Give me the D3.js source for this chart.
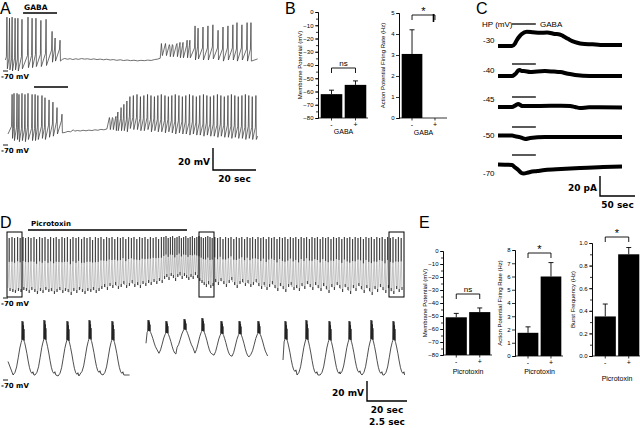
<!DOCTYPE html>
<html>
<head>
<meta charset="utf-8">
<script src="https://cdn.jsdelivr.net/npm/d3@7"></script>
<style>
  body { margin: 0; background: #fff; }
  svg text { font-family: "Liberation Sans", Arial, sans-serif; fill: #000; }
  .note { font-family: "DejaVu Sans", Verdana, sans-serif; font-weight: bold; }
  .axis text { font-size: 6px; }
  .axis path, .axis line { stroke: #000; stroke-width: 0.8; }
</style>
</head>
<body>
<svg id="fig" width="640" height="428"></svg>
<script>
/* ---------- data ---------- */

// A, top trace: spikes [sec, peak mV, trough mV]
const aTopSpikes = [
  [0.9,-21,-68],[2.1,-22,-69],[3.3,-21,-70],[4.7,-22,-69],[6.0,-22,-70],[7.9,-23,-68],
  [10.7,-21,-67],[12.6,-22,-67],[14.4,-22,-66],[16.7,-24,-66],[19.1,-23,-65],
  [21.9,-34,-62],[23.3,-40,-61],[25.6,-42,-61],
  [73.0,-51,-56],[74.9,-50,-56],[76.7,-48,-57],[78.1,-47,-57],[80.0,-45,-57],[81.4,-44,-58],
  [82.8,-44,-58],[84.7,-42,-58],[86.0,-42,-58],[88.4,-29,-60],[89.8,-31,-59],[92.1,-30,-60],
  [94.4,-29,-60],[96.7,-28,-59],[99.1,-33,-60],[101.4,-30,-61],[103.7,-29,-60],[106.0,-28,-60],
  [107.9,-26,-61],[110.2,-28,-60],[112.6,-26,-61],[114.4,-26,-61]
];
// A, top trace: membrane potential between spikes [sec, mV]
const aTopFlat = [
  [0.2,-60],[26.6,-59.5],[27.8,-58.6],[29.0,-59.3],[30.3,-58.8],[31.5,-59.6],[32.9,-58.9],
  [34.2,-59.4],[35.6,-58.7],[37.0,-59.2],[38.4,-58.9],[39.9,-59.5],[41.3,-59.0],[42.8,-59.6],
  [44.3,-59.2],[45.8,-59.8],[47.3,-59.3],[48.9,-60.0],[50.4,-59.6],[52.0,-60.3],[53.6,-59.8],
  [55.2,-60.5],[56.8,-60.0],[58.4,-60.6],[60.0,-60.2],[61.6,-60.8],[63.2,-60.3],[64.8,-60.6],
  [66.4,-60.1],[68.0,-60.4],[69.6,-59.6],[71.0,-59.2],[72.2,-58.4],[117.5,-59]
];
// A, bottom trace
const aBotSpikes = [
  [3.3,-24,-64],[4.2,-23,-66],[5.6,-23,-65],[6.5,-24,-67],[7.9,-23,-66],[9.3,-24,-67],
  [10.7,-23,-65],[12.6,-24,-66],[14.0,-24,-66],[15.3,-25,-65],[17.2,-25,-64],[18.6,-27,-65],
  [20.5,-29,-63],[22.3,-31,-62],[24.2,-36,-60],[26.5,-42,-59],
  [48.8,-48,-56],[50.2,-46,-56],[51.6,-44,-57],[52.5,-40,-57],[54.0,-36,-57],[55.3,-33,-57],[56.7,-30,-58],
  [58.1,-26,-55],[59.7,-25,-56],[61.4,-24,-56],[63.0,-26,-57],[64.6,-25,-57],[66.3,-24,-56],
  [67.9,-25,-58],[69.5,-26,-57],[71.1,-25,-58],[72.7,-24,-58],[74.4,-25,-59],[76.0,-26,-58],
  [77.6,-25,-59],[79.2,-24,-60],[80.9,-25,-59],[82.5,-26,-60],[84.1,-25,-60],[85.8,-24,-61],
  [87.4,-25,-60],[89.0,-26,-61],[90.6,-25,-61],[92.3,-24,-62],[93.9,-25,-61],[95.5,-26,-62],
  [97.1,-25,-62],[98.8,-24,-63],[100.4,-25,-62],[102.0,-26,-63],[103.7,-25,-63],[105.3,-24,-64],
  [106.9,-25,-63],[108.5,-26,-64],[110.2,-25,-64],[111.8,-24,-65],[113.4,-25,-64],[115.0,-26,-65],
  [116.7,-25,-65]
];
const aBotFlat = [
  [1.4,-60],[28.0,-58.5],[29.3,-57.6],[30.5,-58.0],[31.8,-56.2],[32.4,-57.4],[33.7,-56.8],
  [35.0,-57.3],[36.3,-56.6],[37.7,-57.1],[39.0,-56.5],[40.4,-56.9],[41.8,-56.2],[43.2,-56.6],
  [44.6,-55.8],[46.0,-56.2],[47.4,-55.4],[117.5,-62]
];
const aTopGaba = [8.4, 24.2];
const aBotGaba = [13.5, 29.3];

// B
const gabaCats = ['-', '+'];
const gabaVm = [-62, -55];
const gabaVmErr = [3, 3];
const gabaRate = [3.05, 0];
const gabaRateErr = [1.15, 0];

// C: holding potentials and current traces [sec, pA relative to holding current]
const cHolding = ['-30', '-40', '-45', '-50', '-70'];
const cTraces = [
  [[0,0],[20,0],[24,2],[27,5.5],[31,9],[34,11],[41,13],[50,12.5],[60,12],[70,12.3],[81,11],[88,10.5],[93,9],[100,6.5],[106,4.5],[113,3],[120,2],[135,1.5],[146,1],[177,1]],
  [[0,0],[20,0],[24,1.5],[26,2.7],[29,5],[31,5.5],[34,4.5],[37,4.5],[46,3.6],[56,4.2],[67,4.5],[80,4],[89,3.6],[100,2],[110,1],[131,0],[177,0]],
  [[0,0],[20,0],[25,1.5],[29,2.7],[32,1.8],[34,1],[60,1],[90,1.2],[103,1],[110,0],[117,-1],[130,-0.3],[177,-0.5]],
  [[0,0.5],[20,0.5],[26,-0.5],[31,-1],[35,-2],[39,-2.7],[46,-1.8],[67,-1],[120,-1],[177,-1]],
  [[0,0.5],[20,0],[24,-2],[29,-4.5],[33,-7],[37,-7.7],[41,-7.2],[46,-6.4],[56,-5.5],[67,-4.5],[90,-3.6],[117,-2.7],[150,-1.8],[177,-1.4]]
];
const cGaba = [20, 54];

// D, full trace: bursts [sec, trough mV, peak mV]
const dTopBursts = [
  [0.6,-64,-11],[2.0,-65,-10],[3.3,-66,-11],[4.8,-64,-10],[6.1,-65,-11],[7.5,-63,-10],[8.8,-64,-11],
  [10.2,-66,-10],[11.5,-63,-11],[13.0,-65,-10],[14.3,-67,-12],[15.8,-64,-10],[17.1,-66,-11],[18.5,-63,-10],
  [20.0,-65,-12],[21.3,-64,-10],[22.8,-67,-11],[24.1,-65,-10],[25.5,-63,-12],[27.0,-66,-10],[28.3,-64,-11],
  [29.7,-65,-10],[31.2,-68,-12],[32.5,-64,-10],[34.0,-66,-11],[35.3,-63,-10],[36.8,-65,-12],[38.1,-67,-10],
  [39.5,-64,-11],[41.0,-65,-10],[42.3,-63,-13],[43.7,-66,-10],[45.1,-64,-11],
  [46.5,-62,-10],[47.9,-60,-12],[49.3,-63,-10],[50.6,-59,-11],[52.0,-61,-10],[53.4,-58,-12],[54.8,-62,-10],
  [56.2,-60,-11],[57.5,-57,-10],[58.9,-61,-12],[60.3,-59,-10],[61.7,-56,-11],[63.0,-60,-10],[64.4,-58,-12],
  [65.8,-61,-10],[67.1,-57,-11],[68.5,-59,-10],[69.9,-56,-12],[71.2,-58,-10],[72.6,-55,-11],[74.0,-57,-10],
  [75.3,-54,-12],[76.7,-56,-10],
  [77.9,-52,-10],[79.0,-50,-9],[80.1,-53,-11],[81.2,-49,-10],[82.3,-51,-9],[83.4,-54,-11],[84.5,-50,-10],
  [85.6,-48,-9],[86.7,-52,-11],[87.8,-49,-10],[88.9,-51,-9],[90.0,-53,-11],[91.1,-50,-10],[92.2,-52,-9],
  [93.3,-48,-11],[94.4,-51,-10],[95.5,-54,-9],[96.6,-56,-10],[97.7,-58,-11],[98.8,-60,-10],[99.9,-57,-9],
  [101.0,-61,-10],[102.1,-59,-11],
  [103.4,-55,-10],[104.8,-58,-11],[106.1,-54,-10],[107.5,-57,-12],[108.8,-60,-10],[110.2,-56,-11],
  [111.5,-53,-10],[112.9,-58,-12],[114.2,-61,-10],[115.6,-57,-11],[116.9,-55,-10],[118.3,-59,-12],
  [119.6,-56,-10],[121.0,-60,-11],[122.3,-58,-10],[123.7,-55,-12],[125.0,-59,-10],
  [126.4,-62,-11],[127.7,-58,-10],[129.1,-63,-12],[130.4,-60,-10],[131.8,-57,-11],[133.1,-61,-10],
  [134.5,-64,-12],[135.8,-59,-10],[137.2,-62,-11],[138.5,-65,-10],[139.9,-60,-12],[141.2,-58,-10],
  [142.6,-63,-11],[143.9,-61,-10],[145.3,-64,-12],[146.6,-59,-10],[148.0,-62,-11],[149.3,-57,-10],
  [150.7,-60,-12],[152.0,-63,-10],[153.4,-58,-11],[154.7,-61,-10],
  [156.1,-64,-12],[157.4,-59,-10],[158.8,-62,-11],[160.1,-66,-10],[161.5,-60,-12],[162.8,-63,-10],
  [164.2,-58,-11],[165.5,-61,-10],[166.9,-65,-12],[168.2,-60,-10],[169.6,-63,-11],[170.9,-67,-10],
  [172.3,-61,-12],[173.6,-64,-10],[175.0,-59,-11],[176.3,-62,-10],[177.7,-66,-12],[179.0,-61,-10],
  [180.4,-64,-11],[181.7,-68,-10],[183.1,-62,-12],[184.4,-65,-10],[185.8,-60,-11],[187.1,-63,-10],
  [188.5,-66,-12],[189.8,-61,-10],[191.2,-64,-11],[192.5,-67,-10],[193.9,-62,-12],[195.2,-65,-10],
  [196.6,-63,-11]
];
const dPicro = [10, 89.5];
const dEnd = 198;
// D, expanded segments: bursts [sec, trough mV, peak mV]
const dCtrlBursts = [[0.94,-64,-10],[2.31,-64,-9],[3.75,-65,-10],[5.13,-63,-9],[6.56,-64,-10]];
const dDrugBursts = [[0.19,-40,-9],[1.31,-44,-10],[2.44,-38,-8],[3.56,-44,-7],[4.75,-46,-10],[5.88,-47,-10],[7.06,-45,-10]];
const dWashBursts = [[0.19,-62,-10],[1.5,-64,-9],[2.94,-64,-10],[4.19,-63,-10],[5.56,-64,-9],[6.94,-64,-10]];
const dSegEnd = 7.6;
// one burst: [sec from burst, fraction of trough-to-peak]
const burstShape = [
  [-0.62,0.0],[-0.5,0.05],[-0.4,0.15],[-0.3,0.32],[-0.2,0.5],[-0.12,0.6],[-0.08,0.64],
  [-0.06,1.0],[-0.045,0.66],[-0.03,0.97],[-0.015,0.65],[0,0.99],[0.015,0.66],[0.03,0.92],
  [0.045,0.64],[0.06,0.85],[0.075,0.62],[0.1,0.6],[0.16,0.52],[0.24,0.4],[0.32,0.26],
  [0.4,0.14],[0.48,0.06],[0.56,0.03],[0.62,0.06],[0.68,0.0]
];

// E
const picroCats = ['-', '+'];
const picroVm = [-51, -47];
const picroVmErr = [3, 3.2];
const picroRate = [1.75, 6.0];
const picroRateErr = [0.45, 1.05];
const picroBurst = [0.35, 0.9];
const picroBurstErr = [0.11, 0.06];

/* ---------- drawing ---------- */
const svg = d3.select('#fig');
const line = (x, y) => d3.line().x((d) => x(d[0])).y((d) => y(d[1]));

function spikePoints(spikes, flats) {
  const pts = flats.slice();
  spikes.forEach(([t, peak, trough]) => {
    pts.push([t - 0.25, trough + 11], [t, peak], [t + 0.2, trough]);
  });
  return pts.sort((a, b) => a[0] - b[0]);
}

// each burst keeps the part of the shape that lies between the midpoints to its neighbours
function burstPoints(bursts, span) {
  const first = bursts[0];
  const pts = [[0, first[1] + 0.25 * (first[2] - first[1])]];
  bursts.forEach(([t, trough, peak], i) => {
    const lo = i > 0 ? (bursts[i - 1][0] + t) / 2 : 0;
    const hi = i < bursts.length - 1 ? (bursts[i + 1][0] + t) / 2 : span;
    burstShape.forEach(([dt, f]) => {
      const tt = t + dt;
      if (tt > lo && tt < hi) pts.push([tt, trough + f * (peak - trough)]);
    });
  });
  pts.push([span, bursts[bursts.length - 1][1]]);
  return pts.sort((a, b) => a[0] - b[0]);
}

function label(x, y, txt, size, cls, anchor) {
  return svg.append('text').attr('x', x).attr('y', y).attr('class', cls || null)
    .attr('font-size', size).attr('text-anchor', anchor || 'start').text(txt);
}

function hline(x1, x2, y, w) {
  svg.append('line').attr('x1', x1).attr('x2', x2).attr('y1', y).attr('y2', y)
    .attr('stroke', '#000').attr('stroke-width', w || 1.2);
}

function mvMark(y) {
  hline(3, 8, y, 0.9);
  label(1, y + 8, '-70 mV', 7, 'note');
}

function scaleBar(x, yTop, yBot, xRight, vText, hTexts) {
  svg.append('path')
    .attr('d', `M${x},${yTop}V${yBot}H${xRight}`)
    .attr('fill', 'none').attr('stroke', '#000').attr('stroke-width', 1.4);
  label(x - 3, yBot - 5, vText, 9, 'note', 'end');
  hTexts.forEach((t, i) => label((x + xRight) / 2, yBot + 12 + i * 12, t, 9, 'note', 'middle'));
}

// ----- panel letters
label(0, 14, 'A', 16);
label(285, 14, 'B', 16);
label(476, 14, 'C', 16);
label(0, 228, 'D', 16);
label(419, 228, 'E', 16);

// ----- A
const xA = d3.scaleLinear().domain([0, 118]).range([5, 258.7]);
const yAtop = d3.scaleLinear().domain([-70, -20]).range([71, 16]);
const yAbot = d3.scaleLinear().domain([-70, -20]).range([145, 90]);
svg.append('path').attr('d', line(xA, yAtop)(spikePoints(aTopSpikes, aTopFlat)))
  .attr('fill', 'none').attr('stroke', '#333').attr('stroke-width', 0.7);
svg.append('path').attr('d', line(xA, yAbot)(spikePoints(aBotSpikes, aBotFlat)))
  .attr('fill', 'none').attr('stroke', '#333').attr('stroke-width', 0.7);
hline(xA(aTopGaba[0]), xA(aTopGaba[1]), 13, 1.4);
label(xA(aTopGaba[0]) + 1, 10, 'GABA', 7.5, 'note');
hline(xA(aBotGaba[0]), xA(aBotGaba[1]), 87, 1.4);
mvMark(71);
mvMark(145);
// 20 mV = 22 px, 20 sec = 43 px
scaleBar(213, 148, 170, 213 + xA(20) - xA(0), '20 mV', ['20 sec']);

// ----- bar charts
function barPanel(cfg, values, errs) {
  const g = svg.append('g');
  const y = d3.scaleLinear().domain(cfg.domain).range([cfg.bottom, cfg.top]);
  const x = d3.scaleBand().domain(cfg.cats).range([cfg.left + 2, cfg.right])
    .paddingInner(0.1).paddingOuter(0.03);
  const base = cfg.domain[0];
  const cx = (i) => x(cfg.cats[i]) + x.bandwidth() / 2;

  g.selectAll('rect').data(values).join('rect')
    .attr('x', (d, i) => x(cfg.cats[i]))
    .attr('width', x.bandwidth())
    .attr('y', (d) => y(d))
    .attr('height', (d) => y(base) - y(d))
    .attr('fill', '#000');

  g.selectAll('.err').data(values).join('path')
    .attr('class', 'err')
    .attr('d', (d, i) => errs[i] ? `M${cx(i)},${y(d)}V${y(d + errs[i])}M${cx(i) - 2.5},${y(d + errs[i])}h5` : '')
    .attr('stroke', '#000').attr('stroke-width', 0.9);

  g.append('g').attr('class', 'axis').attr('transform', `translate(${cfg.left},0)`)
    .call(d3.axisLeft(y).tickValues(cfg.minor).tickSize(2).tickFormat(''));
  g.append('g').attr('class', 'axis').attr('transform', `translate(${cfg.left},0)`)
    .call(d3.axisLeft(y).tickValues(cfg.ticks).tickSize(3).tickSizeOuter(0).tickPadding(1.5).tickFormat(cfg.fmt));

  g.append('path').attr('d', `M${cfg.left},${y(base)}H${cfg.right + 1}`)
    .attr('stroke', '#000').attr('stroke-width', 0.8);
  cfg.cats.forEach((c, i) => {
    g.append('path').attr('d', `M${cx(i)},${y(base)}v2.5`).attr('stroke', '#000').attr('stroke-width', 0.8);
    g.append('text').attr('x', cx(i)).attr('y', y(base) + 9).attr('font-size', 7)
      .attr('text-anchor', 'middle').text(c);
  });
  g.append('text').attr('x', (cfg.left + cfg.right) / 2 + 1).attr('y', cfg.xTitleY)
    .attr('font-size', 7).attr('text-anchor', 'middle').text(cfg.xTitle);
  g.append('text').attr('transform', `translate(${cfg.yTitleX},${(cfg.top + cfg.bottom) / 2}) rotate(-90)`)
    .attr('font-size', 6).attr('text-anchor', 'middle').text(cfg.yTitle);

  if (cfg.sig) {
    const yb = cfg.sig.y;
    g.append('path').attr('d', `M${cx(0)},${yb + 5}V${yb}H${cx(1)}V${yb + 5}`)
      .attr('fill', 'none').attr('stroke', '#000').attr('stroke-width', 0.9);
    g.append('text').attr('x', (cx(0) + cx(1)) / 2).attr('y', yb - (cfg.sig.text === '*' ? 0 : 2.5))
      .attr('font-size', cfg.sig.text === '*' ? 11 : 8).attr('text-anchor', 'middle').text(cfg.sig.text);
  }
}

const vmTicks = d3.range(-80, 1, 10);
const vmMinor = d3.range(-80, 1, 5);
barPanel({ cats: gabaCats, domain: [-80, 0], left: 318, right: 367, top: 12, bottom: 118,
  ticks: vmTicks, minor: vmMinor, fmt: d3.format('d'), xTitle: 'GABA', xTitleY: 134,
  yTitle: 'Membrane Potential (mV)', yTitleX: 302, sig: { y: 68, text: 'ns' } }, gabaVm, gabaVmErr);
barPanel({ cats: gabaCats, domain: [0, 5], left: 399, right: 446, top: 13, bottom: 118,
  ticks: d3.range(0, 6, 1), minor: [], fmt: d3.format('d'), xTitle: 'GABA', xTitleY: 135,
  yTitle: 'Action Potential Firing Rate (Hz)', yTitleX: 385, sig: { y: 15, text: '*' } }, gabaRate, gabaRateErr);
barPanel({ cats: picroCats, domain: [-80, 0], left: 443, right: 491, top: 251, bottom: 355,
  ticks: vmTicks, minor: vmMinor, fmt: d3.format('d'), xTitle: 'Picrotoxin', xTitleY: 374,
  yTitle: 'Membrane Potential (mV)', yTitleX: 427, sig: { y: 294, text: 'ns' } }, picroVm, picroVmErr);
barPanel({ cats: picroCats, domain: [0, 8], left: 515, right: 562, top: 250, bottom: 356,
  ticks: d3.range(0, 9, 1), minor: [], fmt: d3.format('d'), xTitle: 'Picrotoxin', xTitleY: 374,
  yTitle: 'Action Potential Firing Rate (Hz)', yTitleX: 502, sig: { y: 253, text: '*' } }, picroRate, picroRateErr);
barPanel({ cats: picroCats, domain: [0, 1], left: 592, right: 640, top: 243, bottom: 356,
  ticks: d3.range(0, 1.01, 0.2), minor: d3.range(0, 1.01, 0.1), fmt: d3.format('.1f'), xTitle: 'Picrotoxin', xTitleY: 381,
  yTitle: 'Burst Frequency (Hz)', yTitleX: 575, sig: { y: 237, text: '*' } }, picroBurst, picroBurstErr);
// taller right arm on the GABA firing-rate bracket
svg.append('path').attr('d', 'M433.5,14V22').attr('stroke', '#000').attr('stroke-width', 1.6);

// ----- C
const xC = d3.scaleLinear().domain([0, 177]).range([498, 622]);
const cBase = [46, 76, 107, 136, 165];
const cBarY = [24, 64, 97, 127, 155];
const cLabelY = [43, 73, 102, 138, 176];
cTraces.forEach((tr, i) => {
  const yC = d3.scaleLinear().domain([0, 20]).range([cBase[i], cBase[i] - 22]);
  svg.append('path').attr('d', line(xC, yC).curve(d3.curveMonotoneX)(tr))
    .attr('fill', 'none').attr('stroke', '#000').attr('stroke-width', 4).attr('stroke-linejoin', 'round');
  hline(xC(cGaba[0]), xC(cGaba[1]), cBarY[i], 1.3);
  label(483, cLabelY[i], cHolding[i], 8);
});
label(482, 27, 'HP (mV)', 8);
label(540, 27, 'GABA', 8);
scaleBar(600, 176, 196, 600 + xC(50) - xC(0), '20 pA', ['50 sec']);

// ----- D, full trace
const xD = d3.scaleLinear().domain([0, dEnd]).range([8, 404]);
const yD = d3.scaleLinear().domain([-70, -10]).range([297, 237]);
const dTopPts = [];
dTopBursts.forEach(([t, trough, peak]) => {
  const mid = trough + 0.5 * (peak - trough);
  dTopPts.push([t - 0.55, trough + 3], [t - 0.15, mid], [t, peak], [t + 0.12, mid], [t + 0.4, trough]);
});
svg.append('path').attr('d', line(xD, yD)(dTopPts))
  .attr('fill', 'none').attr('stroke', '#9a9a9a').attr('stroke-width', 0.6);
svg.append('g').selectAll('path').data(dTopBursts).join('path')
  .attr('d', ([t, trough, peak]) => `M${xD(t)},${yD(trough + 0.55 * (peak - trough))}V${yD(peak)}`
    + `M${xD(t + 0.4)},${yD(trough)}v-3`)
  .attr('stroke', '#1c1c1c').attr('stroke-width', 0.8);
hline(xD(dPicro[0]), xD(dPicro[1]), 230, 1.4);
label(xD(dPicro[0]) + 3, 226, 'Picrotoxin', 7, 'note');
[[7, 22], [199, 214], [389, 404]].forEach(([a, b]) => {
  svg.append('rect').attr('x', a).attr('y', 232).attr('width', b - a).attr('height', 65)
    .attr('fill', 'none').attr('stroke', '#000').attr('stroke-width', 1);
});
mvMark(298);

// ----- D, expanded segments (2.5 sec = 40 px)
const yDl = d3.scaleLinear().domain([-70, -10]).range([381, 321]);
[[8, dCtrlBursts], [146, dDrugBursts], [283, dWashBursts]].forEach(([x0, bursts]) => {
  const xs = d3.scaleLinear().domain([0, 2.5]).range([x0, x0 + 40]);
  svg.append('path').attr('d', line(xs, yDl)(burstPoints(bursts, dSegEnd)))
    .attr('fill', 'none').attr('stroke', '#222').attr('stroke-width', 0.8);
});
mvMark(380);
scaleBar(367, 381, 401, 407, '20 mV', ['20 sec', '2.5 sec']);
</script>
</body>
</html>
